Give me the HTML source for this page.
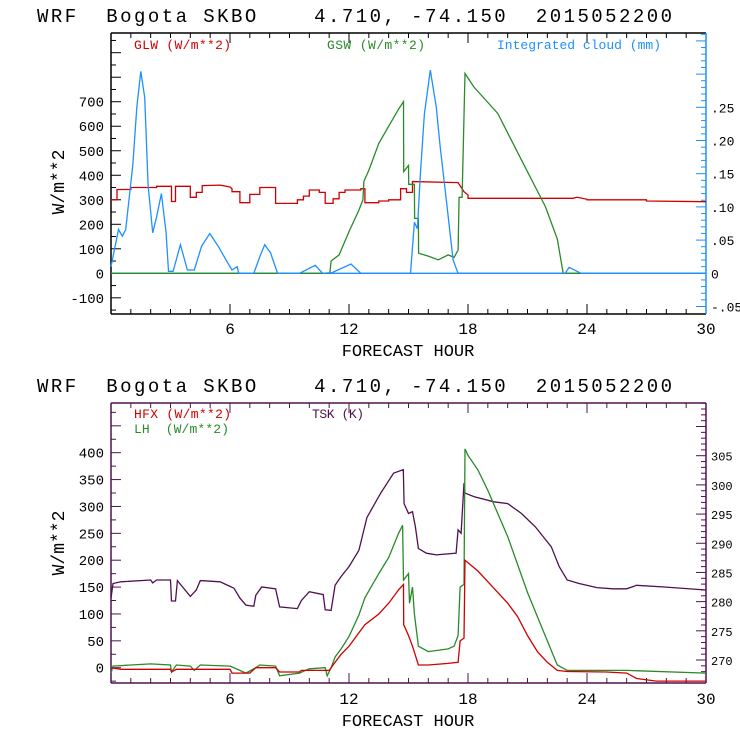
<!DOCTYPE html>
<html><head><meta charset="utf-8"><style>
html,body{margin:0;padding:0;background:#fff;width:740px;height:740px;overflow:hidden}
svg{display:block}
text{font-family:"Liberation Mono","DejaVu Sans Mono",monospace;white-space:pre}
</style></head><body>
<svg id="svg" width="740" height="740" viewBox="0 0 740 740"></svg>
<script>
// ---- Top chart data ----
const glwH = [0,0.3,0.3,1,1,2.3,2.3,3.05,3.05,3.25,3.25,4.0,4.0,4.3,4.3,4.6,4.6,5.5,6.0,6.1,6.1,6.5,6.5,7.0,7.0,7.5,7.5,8.3,8.3,9.4,9.4,9.7,9.7,10.0,10.0,10.5,10.5,10.8,10.8,11.2,11.2,11.5,11.5,11.8,11.8,12.6,12.6,12.8,12.8,13.5,13.5,14.0,14.0,14.6,14.6,14.9,14.9,15.2,15.2,17.5,17.5,17.8,17.8,18.0,18.0,23.3,23.3,23.5,23.5,24.0,24.0,27.0,27.0,30];
const glwV = [300,300,342,342,350,350,355,355,293,293,355,355,310,310,330,330,358,360,352,345,333,333,288,288,322,322,350,350,285,285,300,300,315,315,340,340,330,330,285,285,304,304,330,330,340,340,345,345,288,288,295,295,300,300,345,345,330,330,374,370,370,333,333,320,306,306,306,310,310,302,300,300,295,292];
const gswH = [0,11.03,11.1,11.5,12,12.5,12.7,12.75,13,13.5,14,14.5,14.75,14.76,15.0,15.01,15.3,15.31,15.5,15.51,16,16.5,17,17.3,17.5,17.55,17.7,17.85,18.3,19.5,20.7,21.9,22.5,22.8,30];
const gswV = [0,0,50,75,170,258,300,375,420,530,600,670,700,415,440,363,363,224,224,82,70,55,75,65,95,310,310,815,760,652,462,272,140,0,0];
const cloudH = [0,0.38,0.57,0.74,1.1,1.3,1.5,1.7,1.87,2.1,2.3,2.54,2.78,2.9,3.13,3.5,3.85,4.2,4.57,4.98,5.4,5.9,6.1,6.36,6.44,7.2,7.5,7.75,8.04,8.4,9.5,10.3,10.67,11.15,12.1,12.6,15.1,15.3,15.45,15.6,15.8,16.1,16.4,16.6,16.9,17.25,17.5,22.9,23.1,23.7,30];
const cloudV = [0.01,0.066,0.056,0.066,0.163,0.25,0.304,0.265,0.133,0.061,0.085,0.12,0.061,0.003,0.003,0.043,0.005,0.005,0.041,0.06,0.041,0.015,0.005,0.01,0,0,0.025,0.043,0.031,0,0,0.012,0,0.001,0.014,0,0,0.077,0.067,0.15,0.24,0.306,0.25,0.19,0.112,0.02,0,0,0.009,0,0];
// ---- Bottom chart data ----
const tskH = [0,0.1,0.5,2,2.1,2.3,3.0,3.05,3.25,3.35,4.0,4.3,4.5,5.5,6,6.2,6.5,6.8,7.2,7.3,7.6,8.3,8.5,9.4,9.6,10.0,10.7,10.8,11.1,11.3,11.6,12,12.5,12.9,13.6,14.25,14.74,14.78,15,15.2,15.35,15.5,15.9,16.4,17.4,17.5,17.65,17.8,17.85,18.3,19.3,20,20.7,21.4,22.2,22.6,23,23.6,24.5,25.3,26,26.5,27.9,30];
const tskV = [280.6,283.1,283.4,283.7,283.2,283.7,283.7,280.1,280.1,283.6,280.9,282,283.6,283.4,282.6,282.3,280.6,279.4,279.2,281.1,282.5,282.2,279.1,278.8,280.2,281.7,281.2,278.6,278.5,282.8,284.3,286,288.8,294.4,298.6,302,302.6,296.8,295.1,295.4,292.8,289.1,288.3,288,288.3,292.3,291.7,300.3,298.6,298,297.1,296.8,295.1,292.8,289.4,286,283.7,283.1,282.4,282.2,282.2,282.8,282.5,282];
const hfxH = [0,0.5,2.0,3.0,3.05,3.3,6.0,6.1,7.0,7.3,8.3,8.5,9.5,9.6,11,11.3,11.6,12,12.5,12.8,13.5,14,14.5,14.75,14.76,15.0,15.2,15.5,16,17,17.5,17.6,17.8,17.85,18.5,19,20,20.5,21,21.5,22,22.5,23,25,26,26.5,27.5,30];
const hfxV = [0,-3,-3,-3,-8,-3,-3,-10,-10,0,0,-8,-8,-5,-5,10,25,40,65,80,100,120,145,155,80,60,40,5,5,8,10,50,55,200,180,160,120,95,60,30,10,-5,-7,-8,-10,-20,-25,-25];
const lhH = [0,0.1,1,2,3,3.05,3.3,4,4.2,4.5,6,6.5,6.8,7.3,7.5,8.3,8.5,9.5,10,10.8,10.9,11.1,11.3,11.6,12,12.5,12.8,13.5,14,14.5,14.7,14.75,15.0,15.05,15.2,15.3,15.5,16,17,17.3,17.5,17.6,17.8,17.85,18,18.5,19,20,21,22,22.5,23,26,30];
const lhV = [-10,3,5,7,5,-8,5,3,-5,5,3,-5,-10,0,5,3,-15,-10,-2,0,-15,0,20,35,58,98,130,175,205,250,265,163,175,120,150,100,40,30,35,40,60,150,155,407,395,368,330,244,140,50,5,-5,-5,-10];
// axis ticks
const hourTicks = [6,12,18,24,30];
const topLeftTicks = [-100,0,100,200,300,400,500,600,700];
const topRightTicks = [-0.05,0,0.05,0.10,0.15,0.20,0.25];
const topRightLabels = ["-.05","0",".05",".10",".15",".20",".25"];
const botLeftTicks = [0,50,100,150,200,250,300,350,400];
const botRightTicks = [270,275,280,285,290,295,300,305];

const NS="http://www.w3.org/2000/svg";
const svg=document.getElementById('svg');
function el(tag,attrs,parent,txt){const e=document.createElementNS(NS,tag);for(const k in attrs)e.setAttribute(k,attrs[k]);if(txt!==undefined)e.textContent=txt;(parent||svg).appendChild(e);return e;}

const X0=111,X1=706;
const xs=h=>X0+(X1-X0)*h/30;

function axisFrame(g,T,B,col,rightCol){
  el('line',{x1:X0,y1:T,x2:X1,y2:T,stroke:col,'stroke-width':1.5},g);
  el('line',{x1:X0,y1:B,x2:X1,y2:B,stroke:col,'stroke-width':1.5},g);
  el('line',{x1:X0,y1:T,x2:X0,y2:B,stroke:col,'stroke-width':1.5},g);
  el('line',{x1:X1,y1:T,x2:X1,y2:B,stroke:rightCol,'stroke-width':1.5},g);
  for(let h=1;h<30;h++){const L=h%6===0?10:5;
    el('line',{x1:xs(h),y1:B,x2:xs(h),y2:B-L,stroke:col},g);
    el('line',{x1:xs(h),y1:T,x2:xs(h),y2:T+L,stroke:col},g);}
}
function poly(g,H,V,ys,col,name){
  const p=H.map((h,i)=>xs(h).toFixed(1)+','+ys(V[i]).toFixed(1)).join(' ');
  const e=el('polyline',{points:p,fill:'none',stroke:col,'stroke-width':1.3},g);
  
  
}
function title(y,name){const t=el('text',{x:37,y:y,'font-size':19,fill:'#000',textLength:635,lengthAdjust:'spacing'},svg,'WRF  Bogota SKBO    4.710, -74.150  2015052200');
  }

// ===== Top chart =====
{
const T=33,B=314;
const yL=v=>273.3-v*0.2451;
const yR=c=>273.3-c*664;
title(22,'top-chart-title');
const g=el('g',{});

axisFrame(g,T,B,'#000','#1e90ff');
for(let v=-150;v<=950;v+=50){const y=yL(v);if(y<T||y>B)continue;const L=v%100===0?10:5;
  el('line',{x1:X0,y1:y,x2:X0+L,y2:y,stroke:'#000'},g);}
topLeftTicks.forEach(v=>{const t=el('text',{x:104,y:yL(v)+5,'font-size':14,'text-anchor':'end'},g,String(v));
  });
for(let i=-5;i<=36;i++){const c=i/100;const y=yR(c);if(y<T||y>B)continue;const L=i%5===0?10:5;
  el('line',{x1:X1,y1:y,x2:X1-L,y2:y,stroke:'#1e90ff'},g);}
topRightTicks.forEach((c,i)=>{const t=el('text',{x:711,y:yR(c)+5,'font-size':13},g,topRightLabels[i]);
  });
hourTicks.forEach(h=>{const t=el('text',{x:xs(h),y:334,'font-size':16,'text-anchor':'middle'},g,String(h));
  });
const xt=el('text',{x:408,y:356,'font-size':17,'text-anchor':'middle'},g,'FORECAST HOUR');

const yt=el('text',{x:0,y:0,'font-size':18,'text-anchor':'middle',transform:'translate(64,182) rotate(-90)'},g,'W/m**2');

el('line',{x1:X0,y1:yL(0),x2:X1,y2:yL(0),stroke:'#1e90ff','stroke-width':1.3},g);
poly(g,glwH,glwV,yL,'#d00000','glw-line');
poly(g,gswH,gswV,yL,'#2a8a2a','gsw-line');
poly(g,cloudH,cloudV,yR,'#1e90ff','cloud-line');
const l1=el('text',{x:134,y:49,'font-size':13,fill:'#d00000','font-family':'Liberation Serif',textLength:97},g,'GLW (W/m**2)');

const l2=el('text',{x:327,y:49,'font-size':13,fill:'#2a8a2a','font-family':'Liberation Serif',textLength:98},g,'GSW (W/m**2)');

const l3=el('text',{x:497,y:49,'font-size':13,fill:'#1e90ff','font-family':'Liberation Serif',textLength:164},g,'Integrated cloud (mm)');

}

// ===== Bottom chart =====
{
const T=403,B=683;
const yL=v=>667.7-v*0.5375;
const yR=k=>455.7-(k-305)*5.837;
title(392,'bottom-chart-title');
const P='#501050';
const g=el('g',{});

axisFrame(g,T,B,P,P);
for(let v=-25;v<=525;v+=25){const y=yL(v);if(y<T||y>B)continue;const L=v%50===0?10:5;
  el('line',{x1:X0,y1:y,x2:X0+L,y2:y,stroke:P},g);}
botLeftTicks.forEach(v=>{const t=el('text',{x:104,y:yL(v)+5,'font-size':14,'text-anchor':'end'},g,String(v));
  });
for(let k=268;k<=314;k++){const y=yR(k);if(y<T||y>B)continue;const L=k%5===0?10:5;
  el('line',{x1:X1,y1:y,x2:X1-L,y2:y,stroke:P},g);}
botRightTicks.forEach(k=>{const t=el('text',{x:711,y:yR(k)+5,'font-size':12},g,String(k));
  });
hourTicks.forEach(h=>{const t=el('text',{x:xs(h),y:704,'font-size':16,'text-anchor':'middle'},g,String(h));
  });
const xt=el('text',{x:408,y:726,'font-size':17,'text-anchor':'middle'},g,'FORECAST HOUR');

const yt=el('text',{x:0,y:0,'font-size':18,'text-anchor':'middle',transform:'translate(64,543) rotate(-90)'},g,'W/m**2');

poly(g,tskH,tskV,yR,P,'tsk-line');
poly(g,lhH,lhV,yL,'#2a8a2a','lh-line');
poly(g,hfxH,hfxV,yL,'#d00000','hfx-line');
const l1=el('text',{x:134,y:418,'font-size':13,fill:'#d00000','font-family':'Liberation Serif',textLength:97},g,'HFX (W/m**2)');

const l2=el('text',{x:134,y:433,'font-size':13,fill:'#2a8a2a','font-family':'Liberation Serif',textLength:95},g,'LH  (W/m**2)');

const l3=el('text',{x:312,y:418,'font-size':13,fill:P,'font-family':'Liberation Serif',textLength:52},g,'TSK (K)');

}
</script>
</body></html>
